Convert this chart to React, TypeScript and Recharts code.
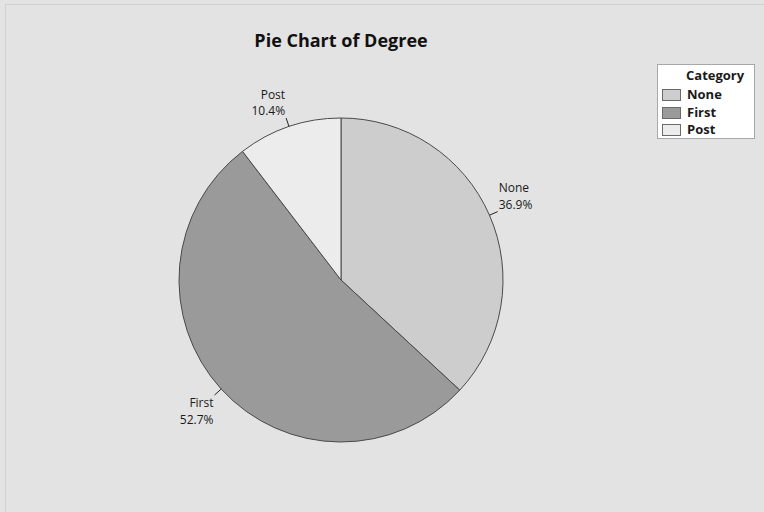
import { PieChart, Pie, Cell, Legend } from 'recharts';

// Pie chart of Degree, Minitab-like grey styling
const categories = ['None', 'First', 'Post'];
const percents = [36.9, 52.7, 10.4];
const fills = ['#cdcdcd', '#9a9a9a', '#ececec'];

const FONT = "'Open Sans', 'DejaVu Sans', sans-serif";
const BG = '#e3e3e3';
const EDGE = '#4a4a4a';
const RAD = Math.PI / 180;
const LINE_GAP = 16.5;

const data = categories.map((name, i) => ({ name, value: percents[i] }));

function renderLabel(props: any) {
  const { cx, cy, midAngle, outerRadius, index } = props;
  const cos = Math.cos(-midAngle * RAD);
  const sin = Math.sin(-midAngle * RAD);
  const x0 = cx + outerRadius * cos;
  const y0 = cy + outerRadius * sin;
  const x1 = cx + (outerRadius + 9) * cos;
  const y1 = cy + (outerRadius + 9) * sin;
  const right = cos >= 0;
  const upper = sin < 0;
  const tx = right ? x1 + 1 : x1 - 1;
  // baseline of the first line (name), percentage goes below it
  const b1 = upper ? y1 - 3 - LINE_GAP : y1 + 12;
  const anchor = right ? 'start' : 'end';
  return (
    <g>
      <line x1={x0} y1={y0} x2={x1} y2={y1} stroke="#222" strokeWidth={1} />
      <text x={tx} y={b1} textAnchor={anchor} fontFamily={FONT} fontSize={12} fill="#1a1a1a">
        {categories[index]}
      </text>
      <text x={tx} y={b1 + LINE_GAP} textAnchor={anchor} fontFamily={FONT} fontSize={12} fill="#1a1a1a">
        {percents[index].toFixed(1)}%
      </text>
    </g>
  );
}

function renderLegend() {
  return (
    <div
      style={{
        width: 96,
        height: 73,
        background: '#ffffff',
        border: '1px solid #a8a8a8',
        fontFamily: FONT,
        fontSize: 13,
        fontWeight: 700,
        color: '#1a1a1a',
        position: 'relative',
      }}
    >
      <div style={{ position: 'absolute', left: 28, top: 1, lineHeight: '18px' }}>Category</div>
      {categories.map((name, i) => (
        <div key={name} style={{ position: 'absolute', left: 0, top: 20 + i * 17.7, height: 18 }}>
          <div
            style={{
              position: 'absolute',
              left: 4,
              top: 4,
              width: 17,
              height: 10,
              background: fills[i],
              border: '1px solid #6a6a6a',
            }}
          />
          <div style={{ position: 'absolute', left: 29, top: 0, lineHeight: '18px' }}>{name}</div>
        </div>
      ))}
    </div>
  );
}

export default function App() {
  return (
    <div
      style={{
        position: 'absolute',
        left: 0,
        top: 0,
        width: 764,
        height: 512,
        background: BG,
        overflow: 'hidden',
      }}
    >
      <div
        style={{
          position: 'absolute',
          left: 5,
          top: 4,
          width: 800,
          height: 600,
          border: '1px solid #d0d0d0',
        }}
      />
      <div
        style={{
          position: 'absolute',
          left: 0,
          top: 31,
          width: 682,
          textAlign: 'center',
          fontFamily: FONT,
          fontSize: 18,
          fontWeight: 700,
          lineHeight: '18px',
          color: '#111',
        }}
      >
        Pie Chart of Degree
      </div>
      <div style={{ position: 'absolute', left: 0, top: 0 }}>
        <PieChart width={764} height={512} margin={{ top: 0, right: 0, bottom: 0, left: 0 }}>
          <Pie
            data={data}
            dataKey="value"
            nameKey="name"
            cx={341}
            cy={280}
            outerRadius={162}
            startAngle={90}
            endAngle={-270}
            stroke={EDGE}
            strokeWidth={1}
            label={renderLabel}
            labelLine={false}
            isAnimationActive={false}
          >
            {data.map((_, i) => (
              <Cell key={`cell-${i}`} fill={fills[i]} />
            ))}
          </Pie>
          <Legend
            content={renderLegend}
            wrapperStyle={{ position: 'absolute', left: 657, top: 64, width: 98, height: 75 }}
          />
        </PieChart>
      </div>
    </div>
  );
}
